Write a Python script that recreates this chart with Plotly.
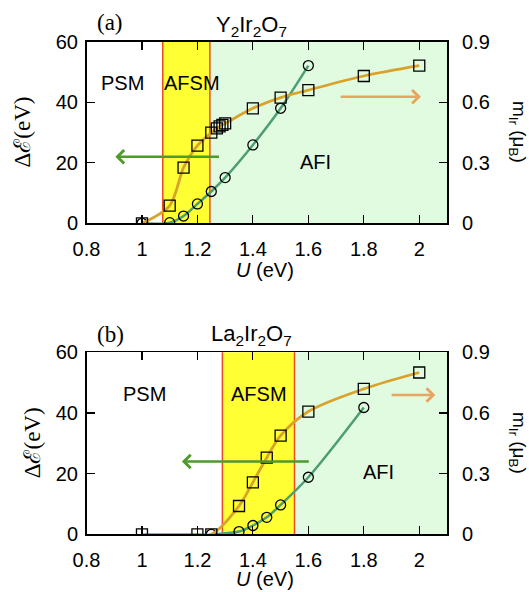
import plotly.graph_objects as go

# ---- data ----
# Panel (a) Y2Ir2O7
U_circ_a = [1.0, 1.1, 1.15, 1.2, 1.25, 1.3, 1.4, 1.5, 1.6]
dE_a = [0.0, 0.2, 2.4, 6.4, 10.5, 15.1, 25.9, 38.0, 52.1]
U_sq_a = [1.0, 1.1, 1.15, 1.2, 1.25, 1.27, 1.28, 1.29, 1.3, 1.4, 1.5, 1.6, 1.8, 2.0]
m_a = [0.0, 0.088, 0.276, 0.385, 0.449, 0.47, 0.48, 0.488, 0.495, 0.57, 0.623, 0.66, 0.73, 0.781]
afsm_a = [1.075, 1.245]

# Panel (b) La2Ir2O7
U_circ_b = [1.25, 1.35, 1.4, 1.45, 1.5, 1.6, 1.8]
dE_b = [0.0, 0.9, 2.9, 5.6, 9.7, 18.8, 41.8]
U_sq_b = [1.0, 1.2, 1.25, 1.35, 1.4, 1.45, 1.5, 1.6, 1.8, 2.0]
m_b = [0.0, 0.0, 0.0, 0.14, 0.257, 0.379, 0.488, 0.607, 0.719, 0.80]
afsm_b = [1.29, 1.55]

x_ticks = [0.8, 1, 1.2, 1.4, 1.6, 1.8, 2]
x_ticklabels = ["0.8", "1", "1.2", "1.4", "1.6", "1.8", "2"]
dE_ticks = [0, 20, 40, 60]
m_ticks = [0, 0.3, 0.6, 0.9]
m_ticklabels = ["0", "0.3", "0.6", "0.9"]

# ---- style ----
W, H = 529, 592
ORANGE = "#D9A22A"
GREEN = "#4E9E74"
GREEN_ARROW = "#4E9A2C"
ORANGE_ARROW = "#E8A560"
YELLOW = "#FFFF33"
LIGHTGREEN = "#E1FBE1"
RED = "#EE4A2A"
SANS = "Liberation Sans, Arial, sans-serif"
SERIF = "Liberation Serif, Times New Roman, serif"
TICKFONT = dict(family=SANS, size=20, color="black")

def px_x(p):
    return p / W

def px_y(p):
    return 1 - p / H

xdom = [px_x(86.5), px_x(447)]
ydom_a = [px_y(223.3), px_y(41.7)]
ydom_b = [px_y(534.3), px_y(352.3)]

fig = go.Figure()

# panel a traces
fig.add_trace(go.Scatter(x=U_circ_a, y=dE_a, mode="lines+markers",
                         line=dict(color=GREEN, width=2.5, shape="spline", smoothing=0.9),
                         marker=dict(symbol="circle-open", size=10, color="black", line=dict(width=1.3)),
                         xaxis="x", yaxis="y", showlegend=False))
fig.add_trace(go.Scatter(x=U_sq_a, y=m_a, mode="lines+markers",
                         line=dict(color=ORANGE, width=2.8, shape="spline", smoothing=0.9),
                         marker=dict(symbol="square-open", size=11, color="black", line=dict(width=1.3)),
                         xaxis="x", yaxis="y2", showlegend=False))
# panel b traces
fig.add_trace(go.Scatter(x=U_circ_b, y=dE_b, mode="lines+markers",
                         line=dict(color=GREEN, width=2.5, shape="spline", smoothing=0.9),
                         marker=dict(symbol="circle-open", size=10, color="black", line=dict(width=1.3)),
                         xaxis="x2", yaxis="y3", showlegend=False))
fig.add_trace(go.Scatter(x=U_sq_b, y=m_b, mode="lines+markers",
                         line=dict(color=ORANGE, width=2.8, shape="spline", smoothing=0.9),
                         marker=dict(symbol="square-open", size=11, color="black", line=dict(width=1.3)),
                         xaxis="x2", yaxis="y4", showlegend=False))

common_x = dict(range=[0.8, 2.1], tickvals=x_ticks, ticktext=x_ticklabels, ticks="inside",
                ticklen=8, tickwidth=1.2, tickcolor="black", showline=True, linecolor="black",
                linewidth=1.5, mirror="ticks", showgrid=False, zeroline=False, tickfont=TICKFONT,
                domain=xdom, automargin=False, ticklabelstandoff=7)
common_yl = dict(range=[0, 60], tickvals=dE_ticks, ticks="inside", ticklen=8, tickwidth=1.2,
                 tickcolor="black", showline=True, linecolor="black", linewidth=1.5,
                 mirror=True, showgrid=False, zeroline=False, tickfont=TICKFONT,
                 automargin=False, ticklabelstandoff=3)
common_yr = dict(range=[0, 0.9], tickvals=m_ticks, ticktext=m_ticklabels, ticks="inside",
                 ticklen=8, tickwidth=1.2, tickcolor="black", showline=False, side="right",
                 showgrid=False, zeroline=False, tickfont=TICKFONT, automargin=False,
                 ticklabelstandoff=14)

fig.update_layout(
    width=W, height=H, margin=dict(l=0, r=0, t=0, b=0, autoexpand=False),
    paper_bgcolor="white", plot_bgcolor="white", hovermode=False,
    xaxis=dict(common_x, anchor="y"),
    yaxis=dict(common_yl, domain=ydom_a, anchor="x"),
    yaxis2=dict(common_yr, overlaying="y", anchor="x"),
    xaxis2=dict(common_x, anchor="y3"),
    yaxis3=dict(common_yl, domain=ydom_b, anchor="x2"),
    yaxis4=dict(common_yr, overlaying="y3", anchor="x2"),
)

shapes = []
for (xa, ya, afsm) in [("x", "y", afsm_a), ("x2", "y3", afsm_b)]:
    shapes.append(dict(type="rect", xref=xa, yref=ya + " domain", x0=afsm[1], x1=2.1, y0=0, y1=1,
                       fillcolor=LIGHTGREEN, line=dict(width=0), layer="below"))
    shapes.append(dict(type="rect", xref=xa, yref=ya + " domain", x0=afsm[0], x1=afsm[1], y0=0, y1=1,
                       fillcolor=YELLOW, line=dict(width=0), layer="below"))
    for xv in afsm:
        shapes.append(dict(type="line", xref=xa, yref=ya + " domain", x0=xv, x1=xv, y0=0, y1=1,
                           line=dict(color=RED, width=1.5), layer="below"))
fig.update_layout(shapes=shapes)

ann = []
def text(x, y, s, xref, yref, font, **kw):
    ann.append(dict(x=x, y=y, text=s, xref=xref, yref=yref, showarrow=False, font=font,
                    xanchor="center", yanchor="middle", **kw))

lab_font = dict(family=SANS, size=20, color="black")
# region labels
text(0.928, 46.3, "PSM", "x", "y", lab_font)
text(1.181, 46.3, "AFSM", "x", "y", lab_font)
text(1.627, 20.4, "AFI", "x", "y", lab_font)
text(1.008, 46.3, "PSM", "x2", "y3", lab_font)
text(1.423, 46.3, "AFSM", "x2", "y3", lab_font)
text(1.853, 20.7, "AFI", "x2", "y3", lab_font)

# arrows
def arrow(x_tail, x_tip, y, xa, ya, color):
    ann.append(dict(x=x_tip, y=y, ax=x_tail, ay=y, xref=xa, yref=ya, axref=xa, ayref=ya,
                    showarrow=True, arrowhead=4, arrowsize=1.0, arrowwidth=2.6,
                    arrowcolor=color, text=""))
arrow(1.283, 0.904, 22.0, "x", "y", GREEN_ARROW)
arrow(1.711, 2.006, 41.8, "x", "y", ORANGE_ARROW)
arrow(1.607, 1.144, 24.0, "x2", "y3", GREEN_ARROW)
arrow(1.895, 2.058, 45.9, "x2", "y3", ORANGE_ARROW)

# panel labels and titles
text(px_x(110), px_y(23), "(a)", "paper", "paper", dict(family=SERIF, size=23, color="black"))
text(px_x(251), px_y(26), "Y<sub>2</sub>Ir<sub>2</sub>O<sub>7</sub>", "paper", "paper",
     dict(family=SANS, size=22, color="black"))
text(px_x(110), px_y(334), "(b)", "paper", "paper", dict(family=SERIF, size=23, color="black"))
text(px_x(251), px_y(335), "La<sub>2</sub>Ir<sub>2</sub>O<sub>7</sub>", "paper", "paper",
     dict(family=SANS, size=22, color="black"))

# axis titles
for (xc, yc) in [(22, 132.5), (32, 443.3)]:
    text(px_x(xc), px_y(yc), "Δℰ(eV)", "paper", "paper",
         dict(family=SERIF, size=23, color="black"), textangle=-90)
for yc in [132, 443]:
    text(px_x(518), px_y(yc), "m<sub>Ir</sub> (μ<sub>B</sub>)", "paper", "paper",
         dict(family=SANS, size=19, color="black"), textangle=90)
for yc in [270, 579]:
    text(px_x(265), px_y(yc), "<i>U</i> (eV)", "paper", "paper",
         dict(family=SANS, size=20, color="black"))

fig.update_layout(annotations=ann)
fig.write_html("out.html", config={"displayModeBar": False, "staticPlot": True},
               post_script="document.body.style.margin='0px';")
